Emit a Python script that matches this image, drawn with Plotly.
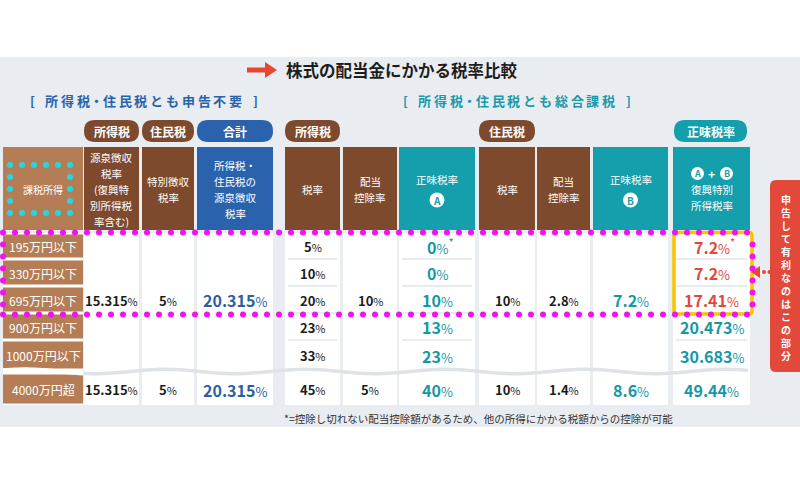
import numpy as np
import plotly.graph_objects as go

# ---------------- data ----------------
title = "株式の配当金にかかる税率比較"
left_subtitle = "所得税・住民税とも申告不要"
right_subtitle = "所得税・住民税とも総合課税"
income_brackets = ["195万円以下", "330万円以下", "695万円以下", "900万円以下", "1000万円以下", "4000万円超"]
# merged cells hold their value once (None = part of the merged cell above/below)
withholding_income_tax = [None, None, 15.315, None, None, 15.315]
withholding_resident_tax = [None, None, 5, None, None, 5]
withholding_total = [None, None, 20.315, None, None, 20.315]
income_tax_rate = [5, 10, 20, 23, 33, 45]
income_tax_dividend_credit = [None, None, 10, None, None, 5]
income_tax_net_A = [0, 0, 10, 13, 23, 40]
resident_tax_rate = [None, None, 10, None, None, 10]
resident_tax_dividend_credit = [None, None, 2.8, None, None, 1.4]
resident_tax_net_B = [None, None, 7.2, None, None, 8.6]
combined_net_rate = [7.2, 7.2, 17.41, 20.473, 30.683, 49.44]
footnote_rows = [0]
advantage_rows = [0, 1, 2]
header_labels = [
    ["課税所得"],
    ["源泉徴収", "税率", "(復興特", "別所得税", "率含む)"],
    ["特別徴収", "税率"],
    ["所得税・", "住民税の", "源泉徴収", "税率"],
    ["税率"],
    ["配当", "控除率"],
    ["正味税率", "A"],
    ["税率"],
    ["配当", "控除率"],
    ["正味税率", "B"],
    ["A+B", "復興特別", "所得税率"],
]
group_labels = [("所得税", 1), ("住民税", 2), ("合計", 3), ("所得税", 4), ("住民税", 7), ("正味税率", 10)]
side_note = "申告して有利なのはこの部分"
footnote = "*=控除し切れない配当控除額があるため、他の所得にかかる税額からの控除が可能"

# ---------------- styles / layout grid ----------------
FONT = "Noto Sans CJK JP"
BG = "#e9edf1"
TAN = "#b47d55"
BROWN = "#7e4a2e"
BLUE = "#2b62ad"
TEAL = "#159eab"
TEAL_TXT = "#1598a6"
RED = "#e2493a"
BLACK = "#1d1d1d"
MAGENTA = "#ee14ee"
CYAN = "#25d5e4"
YELLOW = "#f7c600"
SEP = "#e2e6ea"

COLS = [(3, 83), (84, 139), (142, 194), (197, 273), (285, 340), (343, 397),
        (399, 475), (479, 535), (537, 590), (593, 668), (673, 750)]
HEAD = (147, 230)
ROWS = [(233, 259), (259, 286), (286, 313), (313, 340), (340, 370), (373, 405)]
HEADER_COLORS = [TAN, BROWN, BROWN, BLUE, BROWN, BROWN, TEAL, BROWN, BROWN, TEAL, TEAL]

shapes, anns = [], []


def rect(x0, x1, y0, y1, color, layer="below"):
    shapes.append(dict(type="rect", xref="x", yref="y", x0=x0, x1=x1, y0=y0, y1=y1,
                       fillcolor=color, line=dict(width=0), layer=layer))


def rr_path(x0, x1, y0, y1, r):
    return (f"M{x0+r},{y0} L{x1-r},{y0} Q{x1},{y0} {x1},{y0+r} L{x1},{y1-r} "
            f"Q{x1},{y1} {x1-r},{y1} L{x0+r},{y1} Q{x0},{y1} {x0},{y1-r} "
            f"L{x0},{y0+r} Q{x0},{y0} {x0+r},{y0} Z")


def rrect(x0, x1, y0, y1, r, color):
    shapes.append(dict(type="path", xref="x", yref="y", path=rr_path(x0, x1, y0, y1, r),
                       fillcolor=color, line=dict(width=0), layer="below"))


def txt(x, y, s, size, color, xanchor="center"):
    anns.append(dict(x=x, y=y, xref="x", yref="y", text=s, showarrow=False,
                     xanchor=xanchor, yanchor="middle", borderpad=0,
                     font=dict(family=FONT, size=size, color=color)))


def circle(cx, cy, r, color):
    shapes.append(dict(type="circle", xref="x", yref="y", x0=cx - r, x1=cx + r,
                       y0=cy - r, y1=cy + r, fillcolor=color, line=dict(width=0), layer="below"))


def pct(v, size, star=False):
    s = f"<b>{v:g}</b><span style='font-size:{round(size*0.82)}px;font-weight:normal'>%</span>"
    if star:
        s += "<sup>*</sup>"
    return s


def cx(i):
    return (COLS[i][0] + COLS[i][1]) / 2


def cy(r):
    return (ROWS[r][0] + ROWS[r][1]) / 2


# background
rect(0, 800, 57, 427, BG)

# title + arrow
shapes.append(dict(type="path", xref="x", yref="y", layer="below",
                   path="M247,67.5 L265,67.5 L265,62 L277,70 L265,78 L265,72.5 L247,72.5 Z",
                   fillcolor="#e8472f", line=dict(width=0)))
txt(401.5, 70, f"<b>{title}</b>", 16.5, BLACK)


# spaced subtitles
def spaced(text, x_start, y, color):
    x = x_start
    txt(x - 12, y, "<b>[</b>", 13, color)
    for ch in text:
        adv = 10 if ch == "・" else 15.8
        txt(x + adv / 2, y, f"<b>{ch}</b>", 13, color)
        x += adv
    txt(x + 12, y, "<b>]</b>", 13, color)


spaced(left_subtitle, 44, 100, "#2a63a9")
spaced(right_subtitle, 417, 100, "#1a9aaa")

# group pills
for label, ci in group_labels:
    color = BLUE if ci == 3 else (TEAL if ci == 10 else BROWN)
    x0, x1 = COLS[ci]
    if ci == 10:
        x0, x1 = x0 + 1, x1 - 3
    rrect(x0, x1, 120, 142, 11, color)
    txt((x0 + x1) / 2, 131, f"<b>{label}</b>", 12, "white")

# header cells
for i, (x0, x1) in enumerate(COLS):
    rect(x0, x1, HEAD[0], HEAD[1], HEADER_COLORS[i])
    lines = header_labels[i]
    spacing = 21 if i in (6, 9) else 16
    mid = 189.5
    for k, line in enumerate(lines):
        y = mid + (k - (len(lines) - 1) / 2) * spacing
        if line in ("A", "B"):
            circle(cx(i), y, 7.5, "white")
            txt(cx(i), y, f"<b>{line}</b>", 10, TEAL)
        elif line == "A+B":
            circle(cx(i) - 14, y, 6.5, "white")
            txt(cx(i) - 14, y, "<b>A</b>", 9, TEAL)
            txt(cx(i), y, "<b>+</b>", 12, "white")
            circle(cx(i) + 15, y, 6.5, "white")
            txt(cx(i) + 15, y, "<b>B</b>", 9, TEAL)
        else:
            txt(cx(i), y, line, 10.5 if i else 10, "white")

# data area cells
rect(COLS[0][0], COLS[0][1], ROWS[0][0], ROWS[-1][1], "white")
for r, (y0, y1) in enumerate(ROWS):
    rect(COLS[0][0], COLS[0][1], y0 + 1.5, y1 - 1.5, TAN)
    txt(cx(0), cy(r) + 0.5, income_brackets[r], 12, "white")
for i in range(1, len(COLS)):
    rect(COLS[i][0], COLS[i][1], ROWS[0][0], ROWS[-1][1], "white")
for i in (4, 6, 10):
    for r in range(1, 5):
        y = ROWS[r][0]
        shapes.append(dict(type="line", xref="x", yref="y", x0=COLS[i][0] + 3, x1=COLS[i][1] - 3,
                           y0=y, y1=y, line=dict(color=SEP, width=1.5), layer="below"))

# wavy break
xs = np.arange(84, 751, 4)
ys = 371.5 + 2.2 * np.sin(2 * np.pi * (xs - 60) / 140)
shapes.append(dict(type="path", xref="x", yref="y", layer="below",
                   path="M" + " L".join(f"{a:.1f},{b:.2f}" for a, b in zip(xs, ys)),
                   line=dict(color="#dfe3e8", width=3.5)))
xs0 = np.arange(3, 84, 4)
ys0 = 371.5 + 2.2 * np.sin(2 * np.pi * (xs0 - 60) / 140)
shapes.append(dict(type="path", xref="x", yref="y", layer="below",
                   path="M" + " L".join(f"{a:.1f},{b:.2f}" for a, b in zip(xs0, ys0)),
                   line=dict(color="white", width=4)))

# values
columns = [
    (1, withholding_income_tax, BLACK, 13),
    (2, withholding_resident_tax, BLACK, 13),
    (3, withholding_total, "#2a5fa8", 16),
    (4, income_tax_rate, BLACK, 13),
    (5, income_tax_dividend_credit, BLACK, 13),
    (6, income_tax_net_A, TEAL_TXT, 16),
    (7, resident_tax_rate, BLACK, 13),
    (8, resident_tax_dividend_credit, BLACK, 13),
    (9, resident_tax_net_B, TEAL_TXT, 16),
]
for ci, vals, color, size in columns:
    for r, v in enumerate(vals):
        if v is None:
            continue
        star = ci == 6 and r in footnote_rows
        txt(cx(ci) + (3 if star else 0), cy(r) + 0.5, pct(v, size, star), size, color)
for r, v in enumerate(combined_net_rate):
    color = RED if r in advantage_rows else TEAL_TXT
    star = r in footnote_rows
    txt(cx(10) + (3 if star else 0), cy(r) + 0.5, pct(v, 16, star), 16, color)

# highlight frame
shapes.append(dict(type="path", xref="x", yref="y", layer="below",
                   path=rr_path(674, 752, 232.5, 314, 3), fillcolor="rgba(0,0,0,0)",
                   line=dict(color=YELLOW, width=3.5)))

# side note box (vertical text as one block)
rrect(770, 808, 180, 372, 6, RED)
txt(785.5, 277, "<b>" + "<br>".join(side_note) + "</b>", 10, "white")
shapes.append(dict(type="path", xref="x", yref="y", layer="below",
                   path="M751,272 L760,266 L760,278 Z", fillcolor=RED, line=dict(width=0)))

# footnote
txt(478, 418, footnote, 10.5, "#333333")

fig = go.Figure()

# magenta dotted frame
mx, my = [], []
top = np.arange(3, 754, 12)
mx += list(top); my += [232.5] * len(top)
mx += list(top); my += [314.5] * len(top)
side = np.arange(244.5, 314, 12)
mx += [3] * len(side) + [752.5] * len(side); my += list(side) * 2
fig.add_trace(go.Scatter(x=mx, y=my, mode="markers", hoverinfo="skip",
                         marker=dict(size=6, color=MAGENTA, line=dict(width=0))))
# cyan dotted frame
cxs = np.linspace(10, 70, 6)
cys = np.linspace(165, 213, 5)
bx = list(cxs) + list(cxs) + [10] * 3 + [70] * 3
by = [165] * 6 + [213] * 6 + list(cys[1:4]) * 2
fig.add_trace(go.Scatter(x=bx, y=by, mode="markers", hoverinfo="skip",
                         marker=dict(size=6, color=CYAN, line=dict(width=0))))
# red connector dots
fig.add_trace(go.Scatter(x=[764, 769.5], y=[272, 272], mode="markers", hoverinfo="skip",
                         marker=dict(size=4, color=RED, line=dict(width=0))))

fig.update_layout(
    width=800, height=500, margin=dict(l=0, r=0, t=0, b=0),
    paper_bgcolor="white", plot_bgcolor="white", showlegend=False,
    xaxis=dict(range=[0, 800], visible=False, fixedrange=True),
    yaxis=dict(range=[500, 0], visible=False, fixedrange=True),
    shapes=shapes, annotations=anns,
)
fig.write_html("out.html", config={"displayModeBar": False},
               post_script="document.body.style.margin='0px';document.body.style.overflow='hidden';")
